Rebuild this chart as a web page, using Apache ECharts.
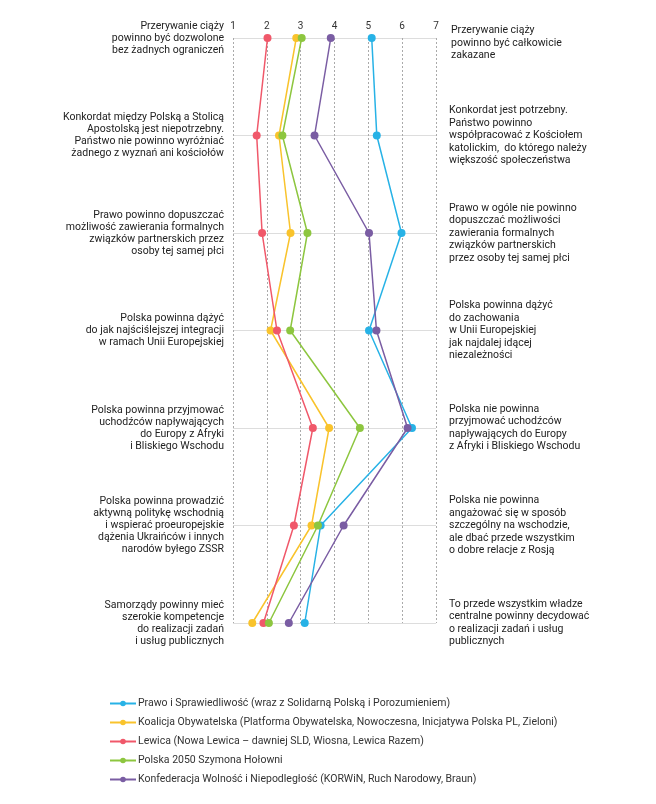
<!DOCTYPE html>
<html>
<head>
<meta charset="utf-8">
<script src="https://cdn.jsdelivr.net/npm/echarts@6/dist/echarts.min.js"></script>
<style>
html,body{margin:0;padding:0;background:#fff;}
#chart{width:656px;height:804px;}
</style>
</head>
<body>
<div id="chart"></div>
<script>
var leftLabels = [
  "Przerywanie ciąży\npowinno być dozwolone\nbez żadnych ograniczeń",
  "Konkordat między Polską a Stolicą\nApostolską jest niepotrzebny.\nPaństwo nie powinno wyróżniać\nżadnego z wyznań ani kościołów",
  "Prawo powinno dopuszczać\nmożliwość zawierania formalnych\nzwiązków partnerskich przez\nosoby tej samej płci",
  "Polska powinna dążyć\ndo jak najściślejszej integracji\nw ramach Unii Europejskiej",
  "Polska powinna przyjmować\nuchodźców napływających\ndo Europy z Afryki\ni Bliskiego Wschodu",
  "Polska powinna prowadzić\naktywną politykę wschodnią\ni wspierać proeuropejskie\ndążenia Ukraińców i innych\nnarodów byłego ZSSR",
  "Samorządy powinny mieć\nszerokie kompetencje\ndo realizacji zadań\ni usług publicznych"
];
var rightLabels = [
  "Przerywanie ciąży\npowinno być całkowicie\nzakazane",
  "Konkordat jest potrzebny.\nPaństwo powinno\nwspółpracować z Kościołem\nkatolickim,  do którego należy\nwiększość społeczeństwa",
  "Prawo w ogóle nie powinno\ndopuszczać możliwości\nzawierania formalnych\nzwiązków partnerskich\nprzez osoby tej samej płci",
  "Polska powinna dążyć\ndo zachowania\nw Unii Europejskiej\njak najdalej idącej\nniezależności",
  "Polska nie powinna\nprzyjmować uchodźców\nnapływających do Europy\nz Afryki i Bliskiego Wschodu",
  "Polska nie powinna\nangażować się w sposób\nszczególny na wschodzie,\nale dbać przede wszystkim\no dobre relacje z Rosją",
  "To przede wszystkim władze\ncentralne powinny decydować\no realizacji zadań i usług\npublicznych"
];
var seriesNames = [
  "Prawo i Sprawiedliwość (wraz z Solidarną Polską i Porozumieniem)",
  "Koalicja Obywatelska (Platforma Obywatelska, Nowoczesna, Inicjatywa Polska PL, Zieloni)",
  "Lewica (Nowa Lewica – dawniej SLD, Wiosna, Lewica Razem)",
  "Polska 2050 Szymona Hołowni",
  "Konfederacja Wolność i Niepodległość (KORWiN, Ruch Narodowy, Braun)"
];
var pis = [5.10, 5.25, 5.98, 5.02, 6.29, 3.59, 3.12];
var ko = [2.87, 2.36, 2.70, 2.11, 3.84, 3.32, 1.57];
var lewica = [2.02, 1.70, 1.86, 2.30, 3.36, 2.80, 1.90];
var p2050 = [3.03, 2.46, 3.20, 2.69, 4.75, 3.51, 2.06];
var konf = [3.89, 3.41, 5.02, 5.24, 6.16, 4.27, 2.65];
var colors = ["#27b2e6", "#f9c32c", "#f0586a", "#8dc63f", "#7a5da3"];

var allData = [pis, ko, lewica, p2050, konf];
var chart = echarts.init(document.getElementById('chart'));
var FONT = 'Roboto';
chart.setOption({
  animation: false,
  textStyle: { fontFamily: FONT },
  grid: { left: 233, right: 220, top: 38, bottom: 181 },
  xAxis: {
    type: 'value', position: 'top', min: 1, max: 7, interval: 1,
    axisLine: { show: false }, axisTick: { show: false },
    axisLabel: { color: '#333', fontSize: 10, margin: 7, fontFamily: FONT },
    splitLine: { show: true, lineStyle: { color: '#aaa', type: [2, 2], width: 1 } }
  },
  yAxis: [{
    type: 'category', data: leftLabels, inverse: true, boundaryGap: false, position: 'left',
    axisLine: { show: false }, axisTick: { show: false },
    axisLabel: { color: '#222', fontSize: 10.5, lineHeight: 12, align: 'right', margin: 9, fontFamily: FONT },
    splitLine: { show: true, lineStyle: { color: '#ddd', width: 1 } }
  }, {
    type: 'category', data: rightLabels, inverse: true, boundaryGap: false, position: 'right',
    axisLine: { show: false }, axisTick: { show: false },
    axisLabel: {
      color: '#222', fontSize: 10.5, lineHeight: 12.5, align: 'left', margin: 13, fontFamily: FONT,
      formatter: function (v, i) { return i === 0 ? '{a|' + v.split('\n').join('}\n{a|') + '}' : v; },
      rich: { a: { fontSize: 10.5, lineHeight: 12.5, padding: [10, 0, 0, 2], fontFamily: FONT, color: '#222' } }
    },
    splitLine: { show: false }
  }],
  legend: {
    orient: 'vertical', left: 104, top: 693,
    itemWidth: 26, itemHeight: 7, itemGap: 8,
    textStyle: { color: '#333', fontSize: 10.5, fontFamily: FONT, padding: [0, 0, 0, -3] },
    data: seriesNames
  },
  series: allData.map(function (d, i) {
    return {
      name: seriesNames[i], type: 'line', data: d, yAxisIndex: 0,
      symbol: 'circle', symbolSize: 8,
      itemStyle: { color: colors[i] },
      lineStyle: { color: colors[i], width: 1.5 }
    };
  })
});
</script>
</body>
</html>
